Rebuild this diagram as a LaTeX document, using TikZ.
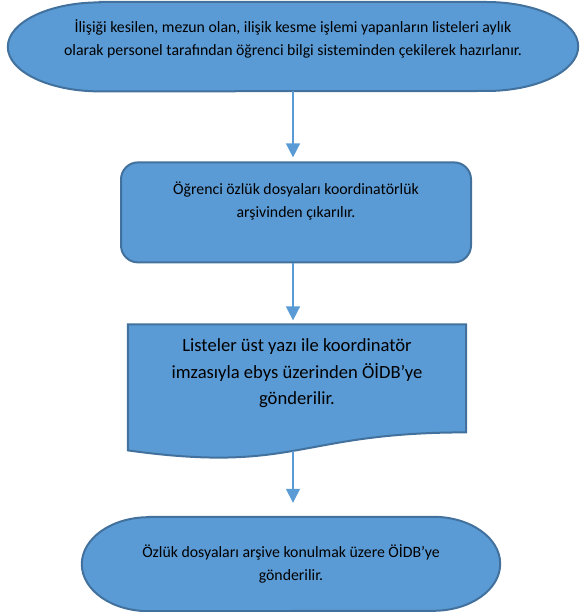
\documentclass[tikz,border=0pt]{standalone}
\usepackage{fontspec}
\setmainfont{Carlito}
\usetikzlibrary{positioning, arrows.meta, backgrounds}
\definecolor{boxfill}{HTML}{5B9BD5}
\definecolor{boxline}{HTML}{41719C}
\tikzset{
block/.style={
  inner sep=0pt, 
  align=center, 
  font=\fontsize{15.8}{23}\selectfont
  }, 
flow/.style={fill=boxfill, draw=boxline, line width=2pt},
line/.style={-{Triangle[width=14pt,length=14pt]}, draw=boxfill, line width=1.5pt}
}
% terminator outline round a node: name, x radius, y radius
\newcommand{\terminal}[3]{
\path[flow] ([xshift=#2]#1.north west) -- ([xshift=-#2]#1.north east)
  arc[start angle=90, end angle=-90, x radius=#2, y radius=#3]
  -- ([xshift=#2]#1.south west)
  arc[start angle=270, end angle=90, x radius=#2, y radius=#3] -- cycle;
}

\begin{document}
\begin{tikzpicture}[x=1pt, y=1pt]
\useasboundingbox (0,0) rectangle (584,612);

\node[block, minimum width=570pt, minimum height=89pt, text depth=18pt, anchor=north]	(start)	at (293,610)	{İlişiği kesilen, mezun olan, ilişik kesme işlemi yapanların listeleri aylık \\ olarak personel tarafından öğrenci bilgi sisteminden çekilerek hazırlanır.};
\node[block, flow, rounded corners=17pt, minimum width=350pt, minimum height=100pt, text depth=25pt]	(remove)	[below=70pt of start, xshift=3pt]	{Öğrenci özlük dosyaları koordinatörlük \\ arşivinden çıkarılır.};
\node[block, font=\fontsize{18.6}{26.5}\selectfont, minimum width=338pt, minimum height=135pt, text depth=41pt]	(send)	[below=61pt of remove, xshift=1pt]	{Listeler üst yazı ile koordinatör \\ imzasıyla ebys üzerinden ÖİDB’ye \\ gönderilir.};
\node[block, minimum width=418pt, minimum height=94pt]	(archive)	[below=57pt of send, xshift=-6pt]	{Özlük dosyaları arşive konulmak üzere ÖİDB’ye \\ gönderilir.};

\begin{scope}[on background layer]
\terminal{start}{92pt}{44.5pt}
\terminal{archive}{67pt}{47pt}
\path[flow] (send.north west) -- (send.north east) -- ([yshift=-108pt]send.north east)
  .. controls ([yshift=-108pt]send.north) and ([yshift=-149.5pt]send.north) .. ([yshift=-126pt]send.north west) -- cycle;
\end{scope}

\draw[line, shorten >=4pt] (start.south) -- (start.south |- remove.north);
\draw[line, shorten >=4pt] (start.south |- remove.south) -- (start.south |- send.north);
\draw[line, shorten >=14pt] ([yshift=9pt]start.south |- send.south) -- (start.south |- archive.north);
\end{tikzpicture}
\end{document}
